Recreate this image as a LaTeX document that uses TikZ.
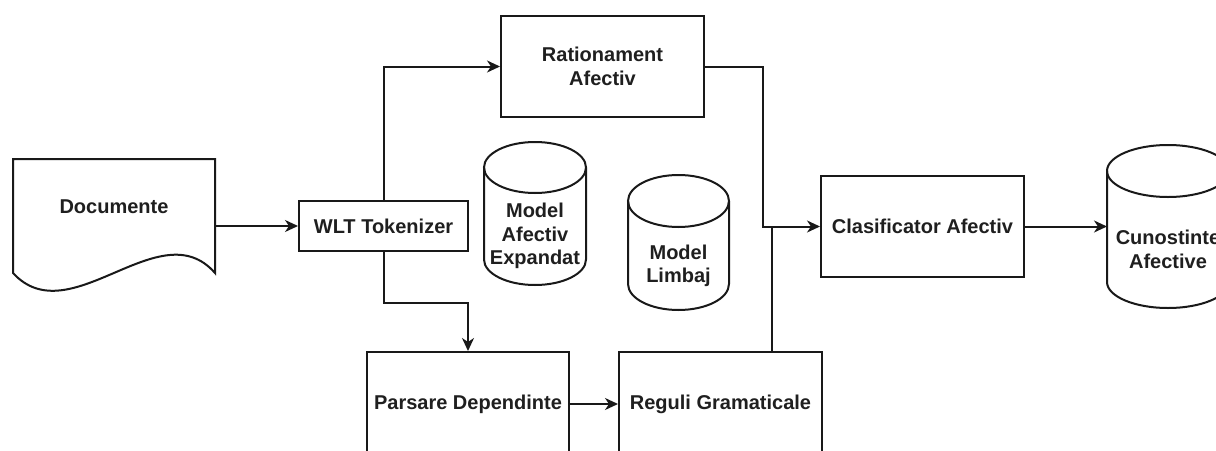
\documentclass[tikz,border=0pt]{standalone}
\usepackage{fontspec}
\setmainfont{Liberation Sans}
\usetikzlibrary{arrows.meta,calc}

% cylinder outline: left x, right x, top y, bottom y, cap half-height
\newcommand\drumshape[5]{%
  \pgfmathsetmacro\dmx{(#1+#2)/2}%
  \pgfmathsetmacro\drx{(#2-#1)/2}%
  \pgfmathsetmacro\dk{0.5523*\drx}%
  \pgfmathsetmacro\dky{0.5523*#5}%
  \draw[wire] (\dmx,{#3+#5}) ellipse [x radius=\drx pt, y radius=#5 pt];
  \draw[wire] (#1,{#3+#5}) -- (#1,{#4-#5})
     .. controls (#1,{#4-#5+\dky}) and ({\dmx-\dk},#4) .. (\dmx,#4)
     .. controls ({\dmx+\dk},#4) and (#2,{#4-#5+\dky}) .. (#2,{#4-#5})
     -- (#2,{#3+#5});
}

\tikzset{
  txt/.style={font=\bfseries\fontsize{20}{23.5}\selectfont, align=center, text=black!88},
  box/.style={txt, draw=black!90, rectangle, line width=2pt, inner sep=0pt},
  ghost/.style={rectangle, inner sep=0pt, outer sep=0pt},
  wire/.style={line width=2pt, black!90},
  arr/.style={wire, -{Stealth[length=13pt,width=12pt,inset=4pt]}},
}

\begin{document}
\begin{tikzpicture}[x=1pt,y=-1pt]
\useasboundingbox (0,0) rectangle (1216,450);
\clip (0,0) rectangle (1216,450);
\fill[white] (0,0) rectangle (1216,450);

% document shape
\node[ghost, minimum width=202pt, minimum height=114pt] (doc) at (114,216) {};
\draw[wire] (13,159) -- (215,159) -- (215,273)
   .. controls (160,210) and (70,335) .. (13,273) -- cycle;
\node[txt] (doct) at (114,207) {Documente};

% process boxes
\node[box, minimum width=169pt, minimum height=50pt] (wlt) at (383.5,226) {WLT Tokenizer};
\node[box, minimum width=203pt, minimum height=101pt] (rat) at (602.5,66.5) {Rationament\\Afectiv};
\node[box, minimum width=203pt, minimum height=101pt] (clas) at (922.5,226.5) {Clasificator Afectiv};
\node[box, minimum width=202pt, minimum height=104pt] (pars) at (468,404) {Parsare Dependinte};
\node[box, minimum width=203pt, minimum height=104pt] (reg) at (720.5,404) {Reguli Gramaticale};

% data stores
\node[ghost, minimum width=102pt, minimum height=143pt] (mae) at (535,213.5) {};
\drumshape{484}{586}{142}{285}{25.5}
\node[txt] (maet) at (535,236) {Model\\Afectiv\\Expandat};

\node[ghost, minimum width=101pt, minimum height=135pt] (ml) at (678.5,242.5) {};
\drumshape{628}{729}{175}{310}{26}
\node[txt] (mlt) at (678.5,266) {Model\\Limbaj};

\node[ghost, minimum width=122pt, minimum height=163pt] (store) at (1168,226.5) {};
\drumshape{1107}{1229}{145}{308}{26}
\node[txt] (storet) at (1168,249.5) {Cunostinte\\Afective};

% connectors
\draw[arr] (doc.east |- wlt.west) -- (wlt.west);
\draw[arr] (wlt.north) |- (rat.west);
\draw[arr] (wlt.south) -- ++(0,51) -| (pars.north);
\coordinate (bend) at (763,0);
\draw[arr] (rat.east) -| (bend |- clas.west) -- (clas.west);
\coordinate (tap) at ($(reg.north)!0.5!(reg.north east)$);
\draw[wire] (tap) -- (tap |- clas.west);
\draw[arr] (pars.east) -- (reg.west);
\draw[arr] (clas.east) -- (clas.east -| store.west);
\end{tikzpicture}
\end{document}
